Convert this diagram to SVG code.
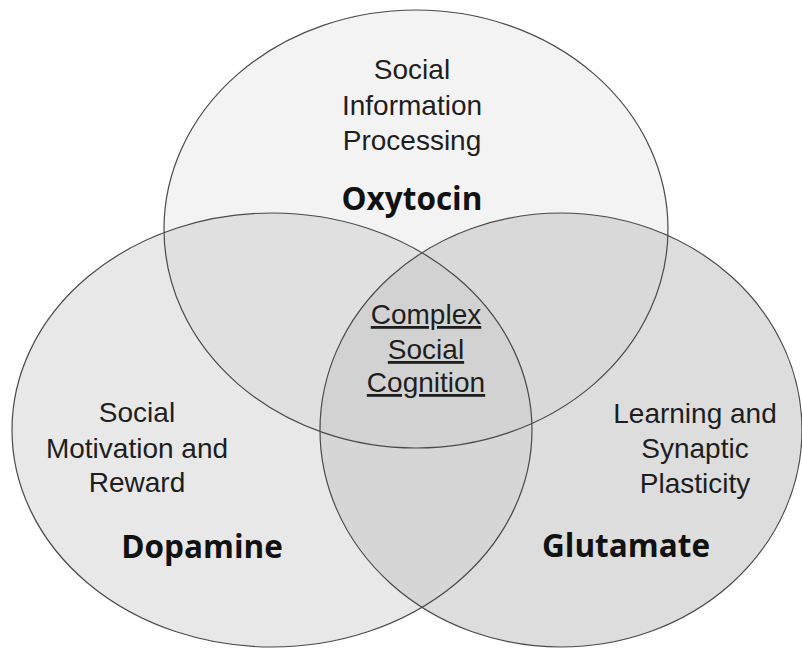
<svg xmlns="http://www.w3.org/2000/svg" width="802" height="650" viewBox="0 0 802 650">
<style>
.lbl{font-family:"Liberation Sans",Arial,sans-serif;font-size:28px;fill:#1e1e1e;text-anchor:middle}
.ttl{font-family:"Open Sans","Liberation Sans",sans-serif;font-weight:700;font-size:31.5px;fill:#111;text-anchor:middle}
.u{text-decoration:underline}
.edge{fill:none;stroke:#4a4a4a;stroke-width:1.2}
</style>
<defs>
<ellipse id="eT" cx="416" cy="229" rx="252" ry="219"/>
<ellipse id="eL" cx="272" cy="430" rx="260" ry="217"/>
<ellipse id="eR" cx="561" cy="430" rx="241" ry="217"/>
<clipPath id="cL"><use href="#eL"/></clipPath>
<clipPath id="cR"><use href="#eR"/></clipPath>
</defs>
<rect width="802" height="650" fill="#ffffff"/>
<g id="fills">
<use href="#eT" fill="#f3f3f3"/>
<use href="#eL" fill="#e8e8e8"/>
<use href="#eR" fill="#dddddd"/>
<use href="#eT" fill="#e0e0e0" clip-path="url(#cL)"/>
<use href="#eT" fill="#d9d9d9" clip-path="url(#cR)"/>
<use href="#eL" fill="#d6d6d6" clip-path="url(#cR)"/>
<g clip-path="url(#cR)"><use href="#eT" fill="#d2d2d2" clip-path="url(#cL)"/></g>
</g>
<g id="connectors"></g>
<g id="oxytocin">
<use href="#eT" class="edge"/>
<text class="lbl" x="412" y="79">Social</text>
<text class="lbl" x="412" y="115">Information</text>
<text class="lbl" x="412" y="150">Processing</text>
<text class="ttl" x="412" y="210">Oxytocin</text>
</g>
<g id="dopamine">
<use href="#eL" class="edge"/>
<text class="lbl" x="137" y="422">Social</text>
<text class="lbl" x="137" y="458">Motivation and</text>
<text class="lbl" x="137" y="492">Reward</text>
<text class="ttl" x="202" y="558">Dopamine</text>
</g>
<g id="glutamate">
<use href="#eR" class="edge"/>
<text class="lbl" x="695" y="423">Learning and</text>
<text class="lbl" x="695" y="458">Synaptic</text>
<text class="lbl" x="695" y="493">Plasticity</text>
<text class="ttl" x="626" y="557">Glutamate</text>
</g>
<g id="center">
<text class="lbl u" x="426" y="324">Complex</text>
<text class="lbl u" x="426" y="359">Social</text>
<text class="lbl u" x="426" y="392">Cognition</text>
</g>
</svg>
